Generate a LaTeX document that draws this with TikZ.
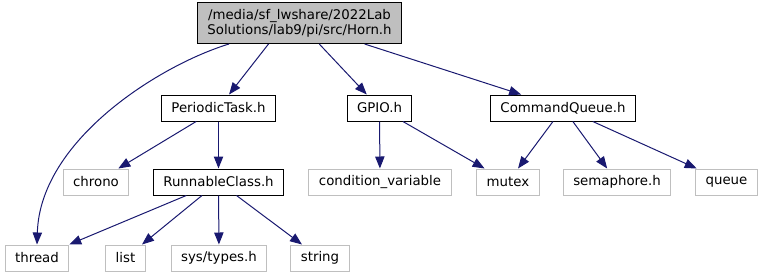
\documentclass[tikz,border=0pt]{standalone}
\usepackage{fontspec}
\setmainfont{DejaVu Sans}
\usetikzlibrary{arrows.meta,calc}
\definecolor{midnight}{HTML}{191970}
\definecolor{grey75}{HTML}{BFBFBF}
\begin{document}
\begin{tikzpicture}[x=0.75pt,y=-0.75pt,
	every node/.style={font=\fontsize{10}{11.5}\selectfont,inner xsep=7.5pt,inner ysep=0pt,
		minimum height=19.5pt,line width=0.75pt},
	localfile/.style={draw=black,fill=white},
	extfile/.style={draw=grey75,fill=white},
	mainfile/.style={draw=black,fill=grey75,align=center,minimum height=30.75pt},
	dep/.style={draw=midnight,line width=0.75pt,-{Triangle[length=9pt,width=7pt]}}]
	\useasboundingbox (0,0) rectangle (763,276);
	% file itself
	\node[mainfile] (horn) at (299.5,23) {/media/sf\_lwshare/2022Lab\\Solutions/lab9/pi/src/Horn.h};
	% first level includes
	\node[localfile] (periodic) at (218.5,108) {PeriodicTask.h};
	\node[localfile] (gpio) at (379.5,108) {GPIO.h};
	\node[localfile] (cmdqueue) at (563,108) {CommandQueue.h};
	% second level
	\node[extfile] (chrono) at (96,182) {chrono};
	\node[localfile] (runnable) at (218.5,182) {RunnableClass.h};
	\node[extfile] (condvar) at (380,182) {condition\_variable};
	\node[extfile] (mutex) at (508,182) {mutex};
	\node[extfile] (semaphore) at (617,182) {semaphore.h};
	\node[extfile] (queue) at (726.5,182) {queue};
	% third level
	\node[extfile] (thread) at (37,258) {thread};
	\node[extfile] (list) at (125.5,258) {list};
	\node[extfile] (systypes) at (219,258) {sys/types.h};
	\node[extfile] (string) at (320,258) {string};
	% include edges
	\draw[dep] ($(horn.south)+(-70.5,0)$) .. controls (160,65) and (40,140) .. (thread.north);
	\draw[dep] ($(horn.south)+(-31,0)$) -- (periodic);
	\draw[dep] (horn) -- (gpio);
	\draw[dep] (horn) -- (cmdqueue);
	\draw[dep] (periodic) -- (chrono);
	\draw[dep] (periodic) -- (runnable);
	\draw[dep] (gpio) -- (condvar);
	\draw[dep] (gpio) -- (mutex);
	\draw[dep] (cmdqueue) -- (mutex);
	\draw[dep] (cmdqueue) -- (semaphore);
	\draw[dep] (cmdqueue) -- (queue);
	\foreach \n in {thread,list,systypes,string}
		\draw[dep] (runnable) -- (\n);
\end{tikzpicture}
\end{document}
